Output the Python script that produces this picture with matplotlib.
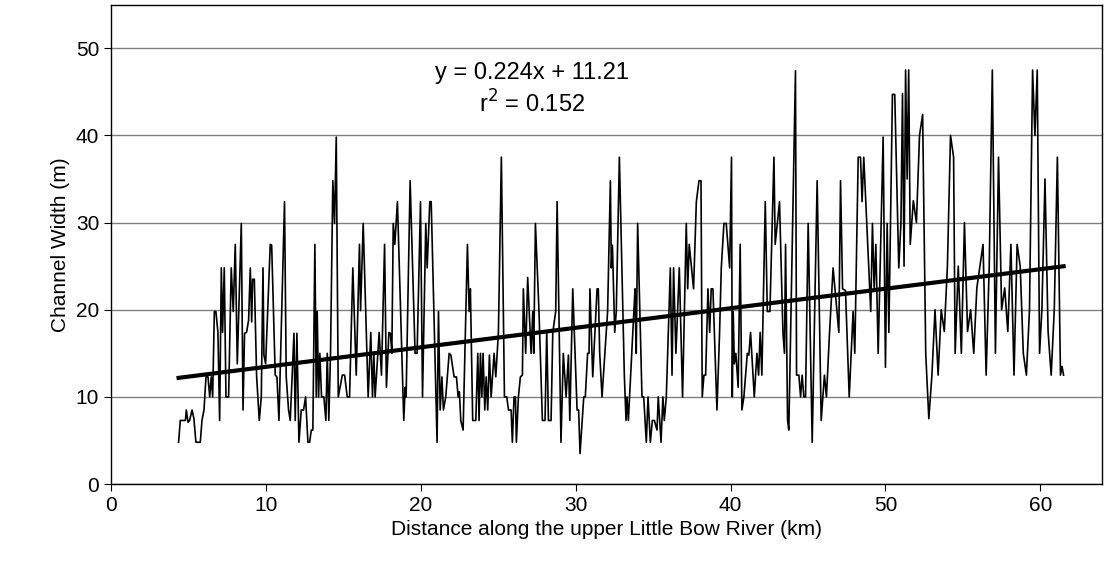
import numpy as np
import matplotlib.pyplot as plt

# distance along river (km) and channel width (m)
dist_km = [
    4.36, 4.47, 4.80, 4.86, 4.97, 5.07, 5.23, 5.35, 5.48, 5.76, 5.87, 6.00, 6.13, 6.26, 6.37, 6.47, 6.56, 6.67, 6.77, 6.90,
    7.01, 7.12, 7.20, 7.31, 7.42, 7.59, 7.76, 7.89, 8.02, 8.15,
    8.41, 8.52, 8.62, 8.75, 8.88, 8.99, 9.08, 9.14, 9.25, 9.40, 9.57, 9.70, 9.81, 9.87, 9.98, 10.28, 10.37, 10.60, 10.71,
    10.84, 11.20, 11.31, 11.46, 11.57, 11.81, 11.89, 12.00, 12.13, 12.28, 12.43, 12.56,
    12.71, 12.82, 12.93, 13.03, 13.16, 13.25, 13.31, 13.40, 13.48, 13.59, 13.74, 13.87, 13.96, 14.06, 14.17, 14.32, 14.43,
    14.54, 14.67, 14.93, 15.08, 15.25, 15.40, 15.61, 15.83, 16.04, 16.11, 16.28, 16.60, 16.77,
    16.88, 16.97, 17.05, 17.31, 17.46, 17.66, 17.78, 17.94, 18.04, 18.13, 18.22, 18.32, 18.49, 18.90, 18.99, 19.05, 19.31,
    19.63, 19.76, 19.98, 20.11, 20.32, 20.41, 20.58, 20.67, 21.05,
    21.14, 21.25, 21.36, 21.46, 21.61, 21.83, 21.94, 22.15, 22.30, 22.41, 22.49, 22.58, 22.73, 23.01, 23.12, 23.20, 23.25,
    23.35, 23.55, 23.68, 23.76, 23.85, 23.94, 24.02, 24.13, 24.22, 24.32, 24.43, 24.54, 24.73, 24.84, 25.01, 25.20,
    25.40, 25.55, 25.66, 25.83, 25.91, 26.02, 26.11, 26.17, 26.30, 26.43, 26.56, 26.62, 26.77, 26.90, 27.12, 27.23, 27.29,
    27.40, 27.63, 27.85, 28.02, 28.13, 28.24, 28.41, 28.52, 28.71, 28.80, 29.05, 29.20, 29.38, 29.53,
    29.62, 29.81, 30.09, 30.19, 30.28, 30.52, 30.62, 30.77, 30.86, 30.92, 31.10, 31.38, 31.46, 31.55, 31.70, 32.06, 32.24,
    32.30, 32.37, 32.41, 32.52, 32.62, 32.82, 33.14, 33.25, 33.31, 33.40, 33.83,
    33.85, 33.91, 34.00, 34.28, 34.39, 34.56, 34.67, 34.82, 34.95, 35.08, 35.25, 35.33, 35.51, 35.63, 35.72, 35.85, 36.11,
    36.22, 36.32, 36.47, 36.69, 36.90, 37.14, 37.23, 37.33, 37.61, 37.79, 37.96, 38.09,
    38.17, 38.28, 38.39, 38.54, 38.65, 38.75, 38.86, 39.12, 39.29, 39.40, 39.57, 39.72, 39.94, 40.06, 40.11, 40.17, 40.24,
    40.34, 40.49, 40.62, 40.73, 40.86, 41.08, 41.18, 41.29, 41.53, 41.70, 41.81, 41.91, 42.02, 42.24,
    42.37, 42.54, 42.80, 42.88, 43.16, 43.38, 43.48, 43.55, 43.68, 43.76, 44.19, 44.26, 44.41, 44.52, 44.62, 44.73, 44.84,
    45.01, 45.27, 45.59, 45.85, 46.06, 46.19, 46.39, 46.62,
    46.99, 47.10, 47.23, 47.42, 47.66, 47.91, 48.02, 48.24, 48.39, 48.49, 48.60, 49.05, 49.16, 49.27, 49.38, 49.53, 49.85,
    50.00, 50.11, 50.22, 50.45, 50.60, 50.86,
    51.00, 51.10, 51.20, 51.30, 51.40, 51.50, 51.60, 51.80, 52.00, 52.20, 52.40, 52.60, 52.80, 53.00, 53.20, 53.40, 53.60,
    53.80, 54.00, 54.20, 54.40, 54.50, 54.70, 54.90, 55.10, 55.30, 55.50, 55.70, 55.90, 56.10, 56.30, 56.50, 56.70, 56.90,
    57.10, 57.30, 57.50, 57.70, 57.90, 58.10, 58.30, 58.50, 58.70, 58.90, 59.10, 59.30, 59.50, 59.65, 59.80, 59.95, 60.10,
    60.30, 60.50, 60.70, 60.90, 61.10, 61.30, 61.40, 61.50,
]
width_m = [
    4.8, 7.3, 7.3, 8.5, 7.1, 7.3, 8.5, 7.5, 4.8, 4.8, 7.3, 8.5, 12.3, 12.3, 10.0, 12.3, 10.0, 19.8, 19.8, 17.4,
    7.3, 24.8, 17.4, 24.8, 10.0, 10.0, 24.8, 19.8, 27.5, 13.8,
    29.9, 8.5, 17.3, 17.4, 18.8, 24.8, 18.6, 23.5, 23.5, 12.3, 7.3, 10.0, 24.8, 14.8, 13.8, 27.5, 27.4, 12.5, 12.3,
    7.3, 32.4, 12.3, 8.5, 7.3, 17.3, 7.3, 17.3, 4.8, 8.5, 8.5, 10.0,
    4.8, 4.8, 6.2, 6.2, 27.5, 10.0, 19.8, 10.0, 15.0, 10.0, 10.0, 7.3, 15.0, 7.3, 15.0, 34.8, 29.9,
    39.8, 10.0, 12.5, 12.5, 10.0, 10.0, 24.8, 12.5, 27.5, 19.9, 29.9, 10.0, 17.4,
    10.0, 14.8, 10.0, 17.4, 12.5, 27.5, 11.1, 17.4, 17.3, 15.0, 29.9, 27.5, 32.4, 7.3, 11.1, 10.0, 34.8,
    15.0, 15.0, 32.4, 10.0, 29.9, 24.8, 32.4, 32.4, 4.8,
    19.8, 8.5, 12.3, 8.5, 10.0, 15.0, 14.8, 12.3, 12.3, 10.0, 10.6, 7.3, 6.2, 27.5, 19.8, 22.4, 17.4,
    7.3, 7.3, 15.0, 7.3, 15.0, 10.0, 15.0, 8.5, 12.3, 8.5, 14.8, 10.0, 15.0, 12.3, 17.4, 37.5,
    10.0, 10.0, 8.5, 8.5, 4.8, 10.0, 10.0, 4.8, 10.0, 12.3, 12.5, 22.4, 15.0, 23.7, 15.0, 19.8, 15.0,
    29.9, 19.8, 7.3, 7.3, 17.6, 7.3, 7.3, 17.4, 19.8, 32.4, 4.8, 15.0, 10.0, 14.8,
    7.3, 22.4, 8.5, 8.5, 3.5, 10.0, 10.0, 15.0, 15.0, 22.4, 12.3, 22.4, 22.4, 15.0, 10.0, 19.8, 34.8,
    24.8, 27.4, 24.8, 17.4, 19.8, 37.5, 12.5, 7.3, 10.0, 7.3, 22.4,
    19.8, 15.0, 29.9, 10.0, 10.0, 4.8, 10.0, 4.8, 7.3, 7.3, 6.2, 10.0, 4.8, 10.0, 7.3, 10.0, 24.8,
    12.5, 24.8, 15.0, 24.8, 10.0, 29.9, 22.4, 27.5, 22.4, 32.4, 34.8, 34.8,
    10.0, 12.5, 12.5, 22.4, 17.4, 22.4, 22.4, 8.5, 17.4, 24.8, 29.9, 29.9, 24.8, 37.5, 10.0, 19.8, 13.8,
    15.0, 11.1, 27.5, 8.5, 10.0, 15.0, 14.8, 17.4, 10.0, 15.0, 12.5, 17.4, 12.5, 32.4,
    19.8, 19.8, 37.5, 27.5, 32.4, 17.4, 15.0, 27.5, 7.3, 6.2, 47.4, 12.5, 12.5, 10.0, 12.5, 10.0, 10.0,
    29.9, 4.8, 34.8, 7.3, 12.5, 10.0, 17.4, 24.8,
    17.4, 34.8, 22.4, 22.2, 10.0, 19.8, 15.0, 37.5, 37.5, 32.4, 37.5, 19.8, 29.9, 22.4, 27.5, 15.0, 39.8,
    13.4, 29.9, 17.4, 44.7, 44.7, 24.8,
    30.0, 44.8, 25.0, 47.5, 35.0, 47.5, 27.5, 32.5, 30.0, 40.0, 42.4, 15.0, 7.5, 12.5, 20.0, 12.5, 20.0,
    17.5, 25.0, 40.0, 37.5, 15.0, 25.0, 15.0, 30.0, 17.5, 20.0, 15.0, 22.5, 25.0, 27.5, 12.5, 25.0, 47.5,
    15.0, 37.5, 20.0, 22.5, 17.5, 27.5, 12.5, 27.5, 25.0, 15.0, 12.5, 20.0, 47.5, 40.0, 47.5, 15.0, 20.0,
    35.0, 17.5, 12.5, 20.0, 37.5, 12.5, 13.5, 12.5,
]

slope, intercept = 0.224, 11.21

plt.rcParams['font.family'] = ['Liberation Sans', 'DejaVu Sans']

fig = plt.figure(figsize=(11.15, 5.77), dpi=100)
ax = fig.add_axes([0.0996, 0.161, 0.889, 0.831])

x = np.array(dist_km)
y = np.array(width_m)
ax.plot(x, y, color='black', lw=1.2)

# linear trend over the data range
xt = np.array([x.min(), x.max()])
ax.plot(xt, slope * xt + intercept, color='black', lw=3)

ax.set_xlim(0, 64)
ax.set_ylim(0, 55)
ax.set_xticks(range(0, 61, 10))
ax.set_yticks(range(0, 51, 10))
ax.yaxis.grid(True, color='#808080', lw=1)
ax.set_axisbelow(True)
ax.tick_params(labelsize=15, direction='out', length=5, color='black')
for s in ax.spines.values():
    s.set_color('black')
    s.set_linewidth(1)

ax.set_xlabel('Distance along the upper Little Bow River (km)', fontsize=15)
ax.set_ylabel('Channel Width (m)', fontsize=15)

ax.text(27.2, 47.1, 'y = 0.224x + 11.21', ha='center', va='center', fontsize=17)
ax.text(27.2, 43.6, 'r$^2$ = 0.152', ha='center', va='center', fontsize=17)

fig.savefig('out.png', dpi=100)
